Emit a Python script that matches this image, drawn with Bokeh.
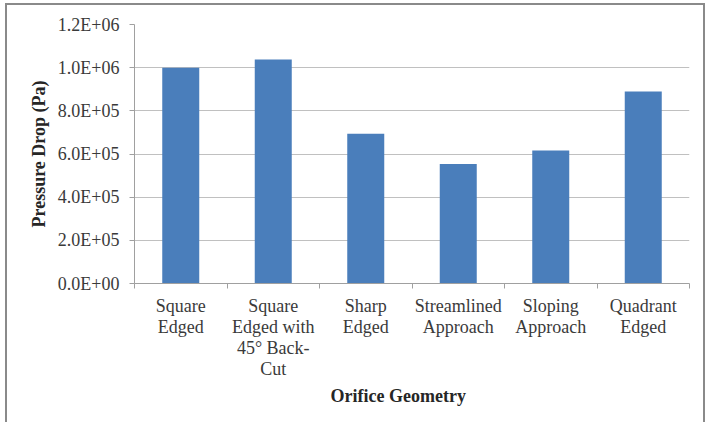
from bokeh.plotting import figure
from bokeh.models import Range1d, FixedTicker, Title, CustomJSTickFormatter
from bokeh.embed import file_html
from bokeh.resources import INLINE

# ---- data ----
categories = ["Square\nEdged", "Square\nEdged with\n45° Back-\nCut", "Sharp\nEdged",
              "Streamlined\nApproach", "Sloping\nApproach", "Quadrant\nEdged"]
pressure_drop = [1.000e6, 1.038e6, 0.694e6, 0.554e6, 0.616e6, 0.890e6]
ytick_values = [0, 2e5, 4e5, 6e5, 8e5, 1.0e6, 1.2e6]
ytick_labels = ["0.0E+00", "2.0E+05", "4.0E+05", "6.0E+05", "8.0E+05", "1.0E+06", "1.2E+06"]
x_title = "Orifice Geometry"
y_title = "Pressure Drop (Pa)"

n = len(categories)
xs = [i + 0.5 for i in range(n)]
bounds = list(range(n + 1))

FONT = "Liberation Serif"
TXT = "#3a3a3a"
BORDER = "#8a8a8a"

lookup_js = """
let best = 0, d = Infinity;
for (let i = 0; i < vals.length; i++) {
  const e = Math.abs(vals[i] - tick);
  if (e < d) { d = e; best = i; }
}
return labs[best];
"""

p = figure(width=700, height=419, output_backend="svg", toolbar_location=None,
           x_range=Range1d(0, n), y_range=Range1d(ytick_values[0], ytick_values[-1]),
           min_border_left=127, min_border_right=18, min_border_top=19, min_border_bottom=141)
p.styles = {"margin-left": "5px", "margin-top": "3px",
            "border-left": f"2px solid {BORDER}", "border-top": f"2px solid {BORDER}",
            "border-right": f"2px solid {BORDER}"}
p.outline_line_color = None
p.background_fill_color = "white"
p.border_fill_color = "white"

p.vbar(x=xs, top=pressure_drop, width=0.4, bottom=0,
       fill_color="#4a7ebb", line_color=None)

# y axis
ya = p.yaxis[0]
ya.ticker = FixedTicker(ticks=ytick_values)
ya.formatter = CustomJSTickFormatter(args=dict(vals=ytick_values, labs=ytick_labels), code=lookup_js)
ya.major_tick_out = 5
ya.major_tick_in = 0
ya.minor_tick_out = 0
ya.minor_tick_in = 0
ya.axis_line_color = "#a0a0a0"
ya.major_tick_line_color = "#a0a0a0"
ya.major_label_text_font = FONT
ya.major_label_text_font_size = "18px"
ya.major_label_text_color = TXT
ya.major_label_standoff = 10
ya.axis_label = y_title
ya.axis_label_text_font = FONT
ya.axis_label_text_font_size = "18px"
ya.axis_label_text_font_style = "bold"
ya.axis_label_text_color = "#262626"
ya.axis_label_standoff = 6

# x axis: ticks at category boundaries, labels centred on categories
xa = p.xaxis[0]
xa.ticker = FixedTicker(ticks=xs, minor_ticks=bounds)
xa.formatter = CustomJSTickFormatter(args=dict(vals=xs, labs=categories), code=lookup_js)
xa.major_tick_out = 0
xa.major_tick_in = 0
xa.minor_tick_out = 5
xa.minor_tick_in = 0
xa.minor_tick_line_color = "#a0a0a0"
xa.axis_line_color = "#a0a0a0"
xa.major_label_text_font = FONT
xa.major_label_text_font_size = "18px"
xa.major_label_text_color = TXT
xa.major_label_standoff = 7
xa.major_label_text_line_height = 1.05

p.add_layout(Title(text=x_title, align="left", offset=196, text_font=FONT,
                   text_font_size="18px", text_font_style="bold",
                   text_color="#262626", standoff=4), "below")

p.xgrid.visible = False
p.ygrid.grid_line_color = "#c0c0c0"
p.ygrid.grid_line_width = 1

open("out.html", "w").write(file_html(p, INLINE))
